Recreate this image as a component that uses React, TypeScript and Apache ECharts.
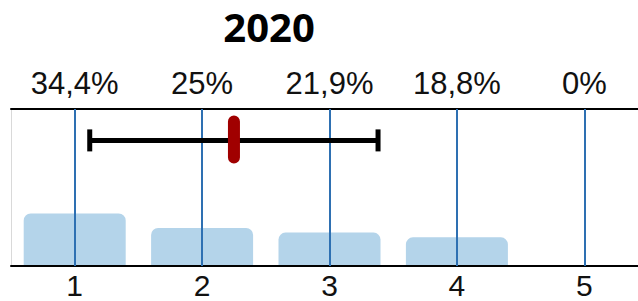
import React, { useEffect, useRef } from "react";
import * as echarts from "echarts";

const categories = ["1", "2", "3", "4", "5"];
const shares = [34.4, 25, 21.9, 18.8, 0];
const topLabels = ["34,4%", "25%", "21,9%", "18,8%", "0%"];
const errLow = [1.118];
const errMean = [2.25];
const errHigh = [3.381];
const titleText = "2020";

const ERR_Y = 0.8;

export default function App() {
  const ref = useRef<HTMLDivElement>(null);
  useEffect(() => {
    document.body.style.margin = "0";
    const chart = echarts.init(ref.current!, null, { renderer: "svg" });
    const font = "Liberation Sans, Arial, sans-serif";
    chart.setOption({
      animation: false,
      backgroundColor: "#ffffff",
      graphic: [
        {
          type: "text",
          x: 269,
          y: 26,
          style: {
            text: titleText,
            font: "bold 40px 'Open Sans', sans-serif",
            fill: "#000",
            textAlign: "center",
            textVerticalAlign: "middle",
          },
        },
      ],
      grid: {
        left: 11,
        width: 637,
        top: 109,
        height: 157,
        containLabel: false,
        outerBoundsMode: "none",
      },
      xAxis: [
        {
          type: "category",
          data: categories,
          position: "bottom",
          boundaryGap: true,
          z: 3,
          axisLine: { onZero: false, lineStyle: { color: "#000", width: 2 } },
          axisTick: {
            show: true,
            alignWithLabel: true,
            inside: true,
            length: 157,
            lineStyle: { color: "#2e70b2", width: 2 },
          },
          axisLabel: { color: "#111", fontSize: 30, fontFamily: font, margin: 4 },
          splitLine: { show: false },
        },
        {
          type: "category",
          data: topLabels,
          position: "top",
          boundaryGap: true,
          z: 3,
          axisLine: { onZero: false, lineStyle: { color: "#000", width: 2 } },
          axisTick: { show: false },
          axisLabel: { color: "#111", fontSize: 31, fontFamily: font, margin: 10 },
          splitLine: { show: false },
        },
        { type: "value", show: false, min: 0.5, max: 5.5 },
      ],
      yAxis: [
        {
          type: "value",
          min: 0,
          max: 103,
          axisLine: { show: true, onZero: false, lineStyle: { color: "#d9d9d9", width: 1 } },
          axisTick: { show: false },
          axisLabel: { show: false },
          splitLine: { show: false },
        },
        { type: "value", show: false, min: 0, max: 1 },
      ],
      series: [
        {
          type: "bar",
          xAxisIndex: 0,
          yAxisIndex: 0,
          data: shares,
          barWidth: 102,
          itemStyle: { color: "#b4d4ea", borderRadius: [7, 7, 0, 0] },
          z: 2,
        },
        {
          type: "custom",
          xAxisIndex: 2,
          yAxisIndex: 1,
          z: 10,
          data: errMean.map((m, i) => [errLow[i], m, errHigh[i]]),
          renderItem: (params: any, api: any) => {
            const lo = api.coord([api.value(0), ERR_Y]);
            const mid = api.coord([api.value(1), ERR_Y]);
            const hi = api.coord([api.value(2), ERR_Y]);
            return {
              type: "group",
              children: [
                {
                  type: "line",
                  shape: { x1: lo[0], y1: lo[1], x2: hi[0], y2: hi[1] },
                  style: { stroke: "#000", lineWidth: 5 },
                },
                {
                  type: "line",
                  shape: { x1: lo[0], y1: lo[1] - 11, x2: lo[0], y2: lo[1] + 11 },
                  style: { stroke: "#000", lineWidth: 5 },
                },
                {
                  type: "line",
                  shape: { x1: hi[0], y1: hi[1] - 11, x2: hi[0], y2: hi[1] + 11 },
                  style: { stroke: "#000", lineWidth: 5 },
                },
                {
                  type: "rect",
                  shape: { x: mid[0] - 6, y: mid[1] - 25, width: 12, height: 48, r: 6 },
                  style: { fill: "#a00000" },
                },
              ],
            };
          },
        },
      ],
    });
    return () => chart.dispose();
  }, []);
  return (
    <div
      ref={ref}
      style={{ position: "absolute", left: 0, top: 0, width: 638, height: 301 }}
    />
  );
}
